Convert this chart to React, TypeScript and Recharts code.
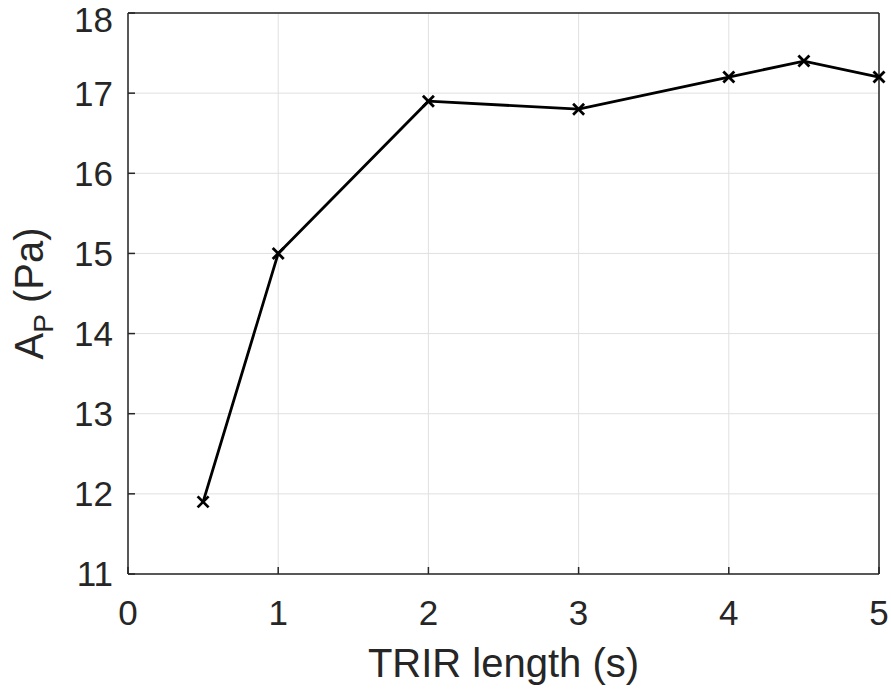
import { LineChart, Line, XAxis, YAxis, CartesianGrid, ReferenceLine, Label } from 'recharts';

const lengths = [0.5, 1, 2, 3, 4, 4.5, 5];
const amplitudes = [11.9, 15.0, 16.9, 16.8, 17.2, 17.4, 17.2];
const xTicks = [0, 1, 2, 3, 4, 5];
const yTicks = [11, 12, 13, 14, 15, 16, 17, 18];

const data = lengths.map((t, i) => ({ t, amp: amplitudes[i] }));

const FONT = '"Liberation Sans", Arial, Helvetica, sans-serif';
const AXIS = '#262626';

function Cross(props: any) {
  const { cx, cy } = props;
  if (cx == null || cy == null) return null;
  const s = 5.5;
  return (
    <g stroke="#000" strokeWidth={2.8}>
      <line x1={cx - s} y1={cy - s} x2={cx + s} y2={cy + s} />
      <line x1={cx - s} y1={cy + s} x2={cx + s} y2={cy - s} />
    </g>
  );
}

function YLabel(props: any) {
  const { viewBox } = props;
  const cy = viewBox.y + viewBox.height / 2;
  const cx = 43;
  return (
    <text
      x={cx}
      y={cy}
      transform={`rotate(-90, ${cx}, ${cy})`}
      textAnchor="middle"
      fontFamily={FONT}
      fontSize={40}
      fill={AXIS}
    >
      A<tspan fontSize={28} dy={10}>P</tspan>
      <tspan dy={-10}> (Pa)</tspan>
    </text>
  );
}

function XLabel(props: any) {
  const { viewBox } = props;
  return (
    <text
      x={viewBox.x + viewBox.width / 2}
      y={viewBox.y + 103}
      textAnchor="middle"
      fontFamily={FONT}
      fontSize={40}
      fill={AXIS}
    >
      TRIR length (s)
    </text>
  );
}

export default function App() {
  return (
    <div style={{ position: 'absolute', left: 0, top: 0, background: '#fff' }}>
      <LineChart
        width={891}
        height={689}
        data={data}
        margin={{ top: 13, right: 12, bottom: 55, left: 48 }}
      >
        <CartesianGrid stroke="#e0e0e0" strokeWidth={1} />
        <XAxis
          dataKey="t"
          type="number"
          domain={[0, 5]}
          ticks={xTicks}
          height={60}
          stroke={AXIS}
          strokeWidth={1.5}
          tickSize={-7}
          tickMargin={33}
          tick={{ fontFamily: FONT, fontSize: 35, fill: AXIS }}
        >
          <Label content={<XLabel />} />
        </XAxis>
        <YAxis
          type="number"
          domain={[11, 18]}
          ticks={yTicks}
          width={80}
          stroke={AXIS}
          strokeWidth={1.5}
          tickSize={-7}
          tickMargin={22}
          tick={{ fontFamily: FONT, fontSize: 35, fill: AXIS }}
        >
          <Label content={<YLabel />} />
        </YAxis>
        <ReferenceLine y={18} stroke={AXIS} strokeWidth={1.5} />
        <ReferenceLine x={5} stroke={AXIS} strokeWidth={1.5} />
        <Line
          dataKey="amp"
          type="linear"
          stroke="#000"
          strokeWidth={2.8}
          dot={<Cross />}
          activeDot={false}
          isAnimationActive={false}
        />
      </LineChart>
    </div>
  );
}
